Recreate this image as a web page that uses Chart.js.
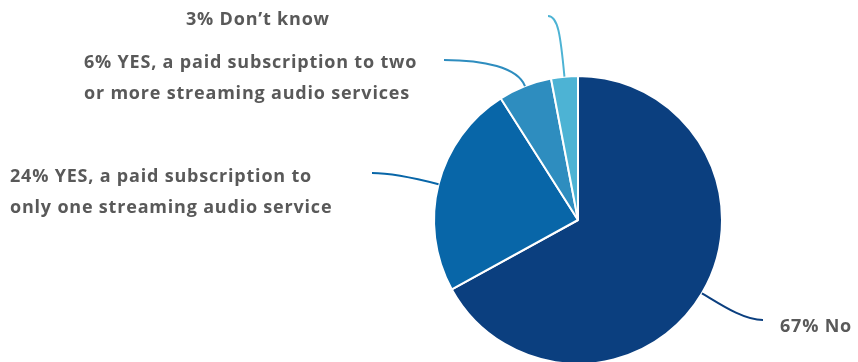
<!DOCTYPE html>
<html>
<head>
<meta charset="utf-8">
<script src="https://cdn.jsdelivr.net/npm/chart.js@4.4.1/dist/chart.umd.min.js"></script>
<style>
    html, body { margin: 0; padding: 0; background: #fff; overflow: hidden; }
    #wrap { position: absolute; left: 0; top: 0; width: 858px; height: 366px; }
</style>
</head>
<body>
<div id="wrap"><canvas id="subscriptionPie"></canvas></div>
<script>
const categories = [
    "No",
    "YES, a paid subscription to only one streaming audio service",
    "YES, a paid subscription to two or more streaming audio services",
    "Don’t know"
];
const shares = [67, 24, 6, 3];
const sliceColors = ["#0b3f7f", "#0866a8", "#2e8dbf", "#4db3d4"];

// text lines shown next to each slice (percent is prepended from shares)
const labelLines = [
    ["No"],
    ["YES, a paid subscription to", "only one streaming audio service"],
    ["YES, a paid subscription to two", "or more streaming audio services"],
    ["Don’t know"]
];

// where each label sits and where its leader line ends
const labelLayout = [
    { x: 780, y: 327, lineEnd: [763, 320], endPull: -20, startPull: 20 },
    { x: 10, y: 177, lineEnd: [372, 173], endPull: 20, startPull: 20 },
    { x: 84, y: 63, lineEnd: [444, 60], endPull: 40, startPull: 20 },
    { x: 186, y: 20, lineEnd: [548, 16], endPull: 10, startPull: 42 }
];

const outLabels = {
    id: "outLabels",
    afterDatasetsDraw(chart) {
        const { ctx } = chart;
        const arcs = chart.getDatasetMeta(0).data;
        arcs.forEach((arc, i) => {
            const { x, y, startAngle, endAngle, outerRadius } = arc.getProps(["x", "y", "startAngle", "endAngle", "outerRadius"], true);
            const mid = (startAngle + endAngle) / 2;
            const sx = x + Math.cos(mid) * outerRadius;
            const sy = y + Math.sin(mid) * outerRadius;
            const layout = labelLayout[i];
            const [ex, ey] = layout.lineEnd;

            ctx.save();
            ctx.strokeStyle = sliceColors[i];
            ctx.lineWidth = 2;
            ctx.beginPath();
            ctx.moveTo(sx, sy);
            ctx.bezierCurveTo(
                sx + Math.cos(mid) * layout.startPull, sy + Math.sin(mid) * layout.startPull,
                ex + layout.endPull, ey,
                ex, ey
            );
            ctx.stroke();

            ctx.fillStyle = "#595959";
            ctx.font = "bold 18px 'Open Sans', sans-serif";
            ctx.letterSpacing = "0.8px";
            ctx.textAlign = "left";
            ctx.textBaseline = "middle";
            labelLines[i].forEach((line, n) => {
                const text = n === 0 ? `${shares[i]}% ${line}` : line;
                ctx.fillText(text, layout.x, layout.y + n * 31);
            });
            ctx.restore();
        });
    }
};

new Chart(document.getElementById("subscriptionPie"), {
    type: "pie",
    data: {
        labels: categories,
        datasets: [{
            data: shares,
            backgroundColor: sliceColors,
            borderColor: "#ffffff",
            borderWidth: 2
        }]
    },
    options: {
        responsive: true,
        maintainAspectRatio: false,
        animation: false,
        layout: {
            padding: { left: 433, right: 135, top: 75, bottom: 1 }
        },
        plugins: {
            legend: { display: false },
            tooltip: { enabled: false }
        }
    },
    plugins: [outLabels]
});
</script>
</body>
</html>
